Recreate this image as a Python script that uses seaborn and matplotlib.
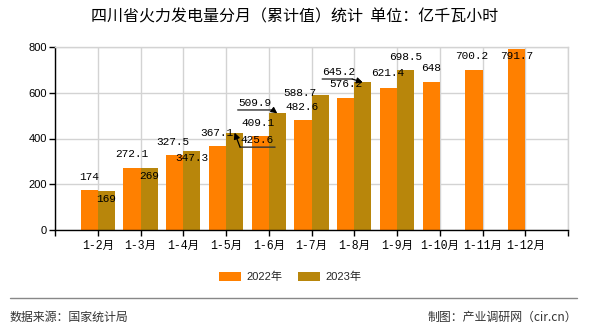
import matplotlib
matplotlib.use("Agg")
import matplotlib.pyplot as plt
from matplotlib.patches import Patch
from matplotlib.lines import Line2D
from matplotlib.transforms import offset_copy
import seaborn as sns
import pandas as pd
import numpy as np

# ---------------- data ----------------
categories = ["1-2月", "1-3月", "1-4月", "1-5月", "1-6月", "1-7月",
              "1-8月", "1-9月", "1-10月", "1-11月", "1-12月"]
years = ["2022年", "2023年"]
values_2022 = [174, 272.1, 327.5, 367.1, 409.1, 482.6, 576.2, 621.4, 648, 700.2, 791.7]
values_2023 = [169, 269, 347.3, 425.6, 509.9, 588.7, 645.2, 698.5, None, None, None]
y_ticks = [0, 200, 400, 600, 800]
title = "四川省火力发电量分月（累计值）统计  单位：亿千瓦小时"
source_text = "数据来源：国家统计局"
maker_text = "制图：产业调研网（cir.cn）"

# label offsets in pixels (dx, dy) relative to bar top centre
offsets_2022 = [(0, 13), (0, 14), (-2, 13), (-1, 13), (-2, 13), (-1, 13),
                (0, 14), (-1, 15), (0, 14), (-2, 14), (0, -7)]
offsets_2023 = [(0, -8), (0, -7.5), (0, -7), (22, -7.5), (-22.6, 10.4),
                (-20, 2), (-24.6, 10.4), (0, 13)]
# leader lines: index in 2023 series -> (underline x0, x1, y, arrow start x, y)
leaders_2023 = {3: (5.5, 40.5, -14.5, 5.5, -14.5),
                4: (-39.6, -4.6, 3.4, -4.6, 3.4),
                6: (-40.6, -10.6, 3.4, -10.6, 3.4)}

colors = ["#FF8000", "#B8860B"]

rows = []
for c, v in zip(categories, values_2022):
    rows.append({"cat": c, "year": years[0], "value": v})
for c, v in zip(categories, values_2023):
    rows.append({"cat": c, "year": years[1], "value": np.nan if v is None else v})
df = pd.DataFrame(rows)

sns.set_style("white")
plt.rcParams["font.family"] = ["Liberation Sans", "Noto Sans CJK SC"]

fig = plt.figure(figsize=(5.9, 3.3), dpi=100)
ax = fig.add_axes([55 / 590, 1 - 230 / 330, (568 - 55) / 590, (230 - 47) / 330])

sns.barplot(data=df, x="cat", y="value", hue="year", order=categories,
            hue_order=years, palette=colors, saturation=1, width=0.8,
            ax=ax, legend=False, dodge=True, linewidth=0, edgecolor="none")

ax.set_xlim(-1, len(categories))
ax.set_ylim(0, 800)
ax.set_axisbelow(True)
ax.set_xlabel("")
ax.set_ylabel("")

xt = list(range(-1, len(categories) + 1))
ax.set_xticks(xt)
ax.set_xticklabels([""] + categories + [""],
                   family=["Liberation Mono", "Noto Sans CJK SC"], fontsize=8.3)
ax.set_yticks(y_ticks)
ax.set_yticklabels([str(t) for t in y_ticks], fontsize=8, family="Liberation Sans")
ax.tick_params(axis="both", which="both", direction="out", length=4, width=1,
               color="black", pad=2, labelcolor="black")
ax.tick_params(axis="x", pad=3)
ax.tick_params(left=True, bottom=True)
ax.grid(True, color="#d3d3d3", linewidth=1)

for s in ["left", "bottom"]:
    ax.spines[s].set_color("black")
    ax.spines[s].set_linewidth(1)
for s in ["top", "right"]:
    ax.spines[s].set_color("#d3d3d3")
    ax.spines[s].set_linewidth(1)

label_font = dict(family=["Liberation Mono", "Noto Sans CJK SC"], fontsize=8,
                  color="black")

# data labels
series = [(values_2022, offsets_2022, {}), (values_2023, offsets_2023, leaders_2023)]
for cont, (vals, offs, leaders) in zip(ax.containers, series):
    bars = [b for b in cont if not np.isnan(b.get_height()) and b.get_height() > 0]
    real_vals = [v for v in vals if v is not None]
    for i, (bar, v, off) in enumerate(zip(bars, real_vals, offs)):
        bx = bar.get_x() + bar.get_width() / 2
        by = bar.get_height()
        ax.annotate(f"{v:g}", xy=(bx, by), xytext=off, textcoords="offset pixels",
                    ha="center", va="center", annotation_clip=False, **label_font)
        if i in leaders:
            x0, x1, uy, sx, sy = leaders[i]
            ax.annotate("", xy=(bx, by),
                        xycoords=offset_copy(ax.transData, fig=fig, x=x1, y=uy, units="dots"),
                        xytext=(x0 - x1, 0), textcoords="offset pixels",
                        arrowprops=dict(arrowstyle="-", color="#333333", lw=1,
                                        shrinkA=0, shrinkB=0),
                        annotation_clip=False)
            ax.annotate("", xy=(bx, by), xytext=(sx, sy), textcoords="offset pixels",
                        arrowprops=dict(arrowstyle="-|>", color="black", lw=0.9,
                                        mutation_scale=9, shrinkA=0, shrinkB=0),
                        annotation_clip=False)

# title
fig.text(295 / 590, 1 - 17 / 330, title, ha="center", va="center",
         fontsize=11.5, family=["Noto Sans CJK SC"], color="black")

# legend
handles = [Patch(facecolor=colors[0], edgecolor="none"),
           Patch(facecolor=colors[1], edgecolor="none")]
fig.legend(handles, years, loc="center", bbox_to_anchor=(290 / 590, 1 - 277 / 330),
           ncol=2, frameon=False, fontsize=8, handlelength=2.0, handleheight=0.8,
           handletextpad=0.45, columnspacing=1.45,
           prop={"family": ["Liberation Sans", "Noto Sans CJK SC"], "size": 8})

# footer
fig.add_artist(Line2D([10 / 590, 577 / 590], [1 - 298 / 330] * 2,
                      color="#888888", linewidth=1))
fig.text(10 / 590, 1 - 317 / 330, source_text, ha="left", va="center",
         fontsize=8.6, color="#333333", family=["Noto Sans CJK SC"])
fig.text(577 / 590, 1 - 317 / 330, maker_text, ha="right", va="center",
         fontsize=8.6, color="#333333", family=["Noto Sans CJK SC"])

fig.savefig("out.png", dpi=100)
